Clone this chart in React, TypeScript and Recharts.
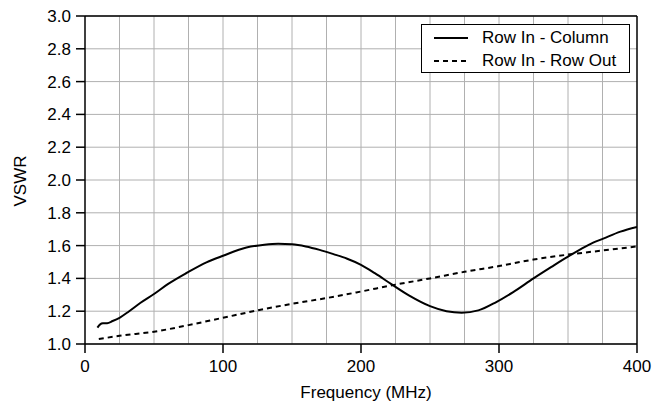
import React from 'react';
import { LineChart, Line, XAxis, YAxis, CartesianGrid, ReferenceLine } from 'recharts';

const colFreq = [9, 11, 13, 16, 20, 25, 32, 40, 50, 60, 74, 88, 100, 117, 130, 140, 150, 160, 170, 180, 190, 200, 210, 222, 235, 250, 262, 273, 285, 298, 310, 325, 338, 352, 365, 376, 388, 400];
const colVswr = [1.10, 1.12, 1.126, 1.127, 1.14, 1.16, 1.20, 1.25, 1.305, 1.365, 1.435, 1.498, 1.538, 1.588, 1.605, 1.611, 1.608, 1.595, 1.574, 1.548, 1.52, 1.483, 1.432, 1.365, 1.295, 1.231, 1.20, 1.191, 1.205, 1.256, 1.315, 1.40, 1.47, 1.543, 1.605, 1.644, 1.685, 1.714];

const rowFreq = [10, 25, 50, 75, 100, 125, 150, 175, 200, 225, 250, 275, 300, 325, 350, 375, 400];
const rowVswr = [1.03, 1.05, 1.075, 1.115, 1.16, 1.205, 1.245, 1.28, 1.32, 1.362, 1.40, 1.44, 1.475, 1.515, 1.545, 1.57, 1.595];

const xTicks = [0, 100, 200, 300, 400];
const xGrid = [25, 50, 75, 100, 125, 150, 175, 200, 225, 250, 275, 300, 325, 350, 375];
const yTicks = [1.0, 1.2, 1.4, 1.6, 1.8, 2.0, 2.2, 2.4, 2.6, 2.8, 3.0];

const seriesNames = ['Row In - Column', 'Row In - Row Out'];

const colData = colFreq.map((f, i) => ({ f, v: colVswr[i] }));
const rowData = rowFreq.map((f, i) => ({ f, v: rowVswr[i] }));

const FONT = '"Liberation Sans", Arial, Helvetica, sans-serif';
const FS = 17;

const LegendBox = () => (
  <div
    style={{
      position: 'absolute',
      left: 421,
      top: 24,
      width: 207,
      height: 47,
      border: '1px solid #000',
      background: '#fff',
      fontFamily: FONT,
      fontSize: FS,
      color: '#000',
    }}
  >
    {seriesNames.map((name, i) => (
      <div key={name} style={{ position: 'absolute', left: 12, top: 2 + i * 23, height: 22, display: 'flex', alignItems: 'center' }}>
        <svg width={34} height={4} style={{ display: 'block' }}>
          <line x1={0} y1={2} x2={34} y2={2} stroke="#000" strokeWidth={2} strokeDasharray={i === 1 ? '5 4' : undefined} />
        </svg>
        <span style={{ marginLeft: 14, whiteSpace: 'nowrap', lineHeight: '22px' }}>{name}</span>
      </div>
    ))}
  </div>
);

export default function App() {
  return (
    <div style={{ position: 'absolute', left: 0, top: 0, width: 652, height: 407, background: '#fff' }}>
      <LineChart width={652} height={407} margin={{ top: 16, right: 15, bottom: 0, left: 0 }}>
        <CartesianGrid vertical={false} stroke="#b0b0b0" strokeWidth={1} />
        {xGrid.map((g) => (
          <ReferenceLine key={g} x={g} stroke="#b0b0b0" strokeWidth={1} />
        ))}
        <ReferenceLine y={3} stroke="#000" strokeWidth={1.5} />
        <ReferenceLine x={400} stroke="#000" strokeWidth={1.5} />
        <XAxis
          dataKey="f"
          type="number"
          domain={[0, 400]}
          ticks={xTicks}
          allowDataOverflow
          height={63}
          tickSize={9}
          tickMargin={7}
          axisLine={{ stroke: '#000', strokeWidth: 1.5 }}
          tickLine={{ stroke: '#000', strokeWidth: 1.5 }}
          tick={{ fill: '#000', fontSize: FS, fontFamily: FONT }}
          label={{ value: 'Frequency (MHz)', position: 'insideBottom', offset: 9, dx: 5, fill: '#000', fontSize: FS, fontFamily: FONT }}
        />
        <YAxis
          type="number"
          domain={[1, 3]}
          ticks={yTicks}
          allowDataOverflow
          width={85}
          tickSize={9}
          tickMargin={5}
          tickFormatter={(v: number) => v.toFixed(1)}
          axisLine={{ stroke: '#000', strokeWidth: 1.5 }}
          tickLine={{ stroke: '#000', strokeWidth: 1.5 }}
          tick={{ fill: '#000', fontSize: FS, fontFamily: FONT }}
          label={{
            content: (props: any) => {
              const vb = props.viewBox || { x: 0, y: 16, width: 85, height: 328 };
              const cx = vb.x + 20.5;
              const cy = vb.y + vb.height / 2 + 1;
              return (
                <text x={cx} y={cy} transform={`rotate(-90 ${cx} ${cy})`} textAnchor="middle" dominantBaseline="central" fill="#000" fontSize={FS} fontFamily={FONT}>
                  VSWR
                </text>
              );
            },
          }}
        />
        <Line data={colData} dataKey="v" name={seriesNames[0]} type="monotone" stroke="#000" strokeWidth={2} dot={false} isAnimationActive={false} />
        <Line data={rowData} dataKey="v" name={seriesNames[1]} type="monotone" stroke="#000" strokeWidth={2} strokeDasharray="5 4" dot={false} isAnimationActive={false} />
      </LineChart>
      <LegendBox />
    </div>
  );
}
